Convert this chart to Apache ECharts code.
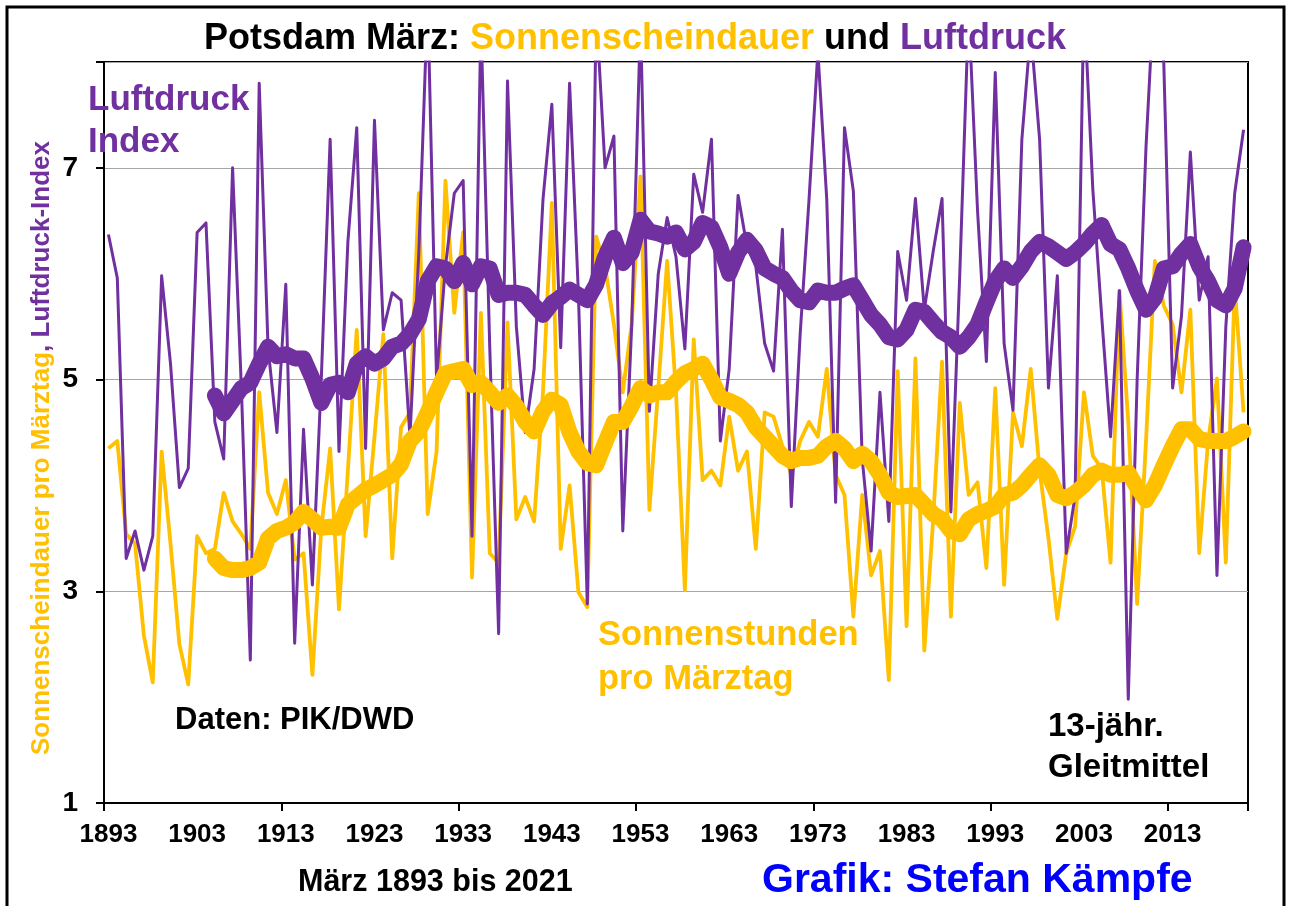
<!DOCTYPE html>
<html>
<head>
<meta charset="utf-8">
<script src="https://cdn.jsdelivr.net/npm/echarts@6/dist/echarts.min.js"></script>
<style>
html,body{margin:0;padding:0;background:#fff;}
#chart{width:1290px;height:906px;}
</style>
</head>
<body>
<div id="chart"></div>
<script>
var years = [1893,1894,1895,1896,1897,1898,1899,1900,1901,1902,
1903,1904,1905,1906,1907,1908,1909,1910,1911,1912,
1913,1914,1915,1916,1917,1918,1919,1920,1921,1922,
1923,1924,1925,1926,1927,1928,1929,1930,1931,1932,
1933,1934,1935,1936,1937,1938,1939,1940,1941,1942,
1943,1944,1945,1946,1947,1948,1949,1950,1951,1952,
1953,1954,1955,1956,1957,1958,1959,1960,1961,1962,
1963,1964,1965,1966,1967,1968,1969,1970,1971,1972,
1973,1974,1975,1976,1977,1978,1979,1980,1981,1982,
1983,1984,1985,1986,1987,1988,1989,1990,1991,1992,
1993,1994,1995,1996,1997,1998,1999,2000,2001,2002,
2003,2004,2005,2006,2007,2008,2009,2010,2011,2012,
2013,2014,2015,2016,2017,2018,2019,2020,2021];

var sonne = [4.35,4.42,3.54,3.45,2.58,2.14,4.32,3.45,2.50,2.12,
3.52,3.36,3.40,3.93,3.66,3.54,3.40,4.88,3.93,3.73,
4.05,3.30,3.36,2.21,3.59,4.35,2.83,4.14,5.47,3.52,
4.46,5.43,3.31,4.55,4.69,6.76,3.73,4.32,6.88,5.63,
6.39,3.13,5.63,3.36,3.27,5.54,3.68,3.89,3.66,4.88,
6.67,3.40,4.00,2.99,2.85,6.35,6.07,5.52,4.88,5.52,
6.92,3.77,4.92,6.12,4.88,3.01,5.38,4.05,4.14,4.00,
4.65,4.14,4.32,3.40,4.69,4.65,4.37,4.10,4.42,4.60,
4.46,5.10,4.10,3.91,2.76,3.91,3.15,3.38,2.16,5.08,
2.67,5.20,2.44,3.68,5.17,2.76,4.78,3.91,4.03,3.22,
4.92,3.06,4.69,4.37,5.10,4.14,3.50,2.74,3.36,3.61,
4.88,4.28,4.16,3.27,5.84,4.60,2.88,4.42,6.12,5.70,
5.52,4.88,5.66,3.36,4.42,5.01,3.27,5.89,4.69];

var luftdruck = [6.37,5.96,3.31,3.57,3.20,3.52,5.98,5.15,3.98,4.16,
6.39,6.48,4.60,4.25,7.00,4.90,2.35,7.80,5.30,4.50,
5.90,2.51,4.53,3.06,5.00,7.27,4.32,6.30,7.38,4.35,
7.45,5.47,5.82,5.75,4.46,6.20,8.60,5.00,6.07,6.76,
6.88,3.52,8.40,5.30,2.60,7.82,5.50,4.50,5.10,6.70,
7.60,5.30,7.80,5.80,2.88,8.50,7.00,7.30,3.57,5.50,
8.40,4.70,6.00,6.53,6.16,5.29,6.94,6.58,7.27,4.42,
5.10,6.74,6.26,6.07,5.34,5.08,6.42,3.80,5.43,6.70,
8.10,6.70,3.84,7.38,6.78,4.25,3.38,4.88,3.66,6.21,
5.75,6.71,5.66,6.21,6.71,3.75,6.00,8.50,6.60,5.17,
7.90,5.34,4.71,7.27,8.30,7.27,4.92,5.98,3.36,3.90,
8.60,6.80,5.60,4.46,5.84,1.98,5.00,7.20,8.80,8.00,
4.92,5.60,7.15,5.75,6.16,3.15,5.50,6.76,7.36];

var sonneMittel = [null,null,null,null,null,null,null,null,null,null,null,null,
3.31,3.22,3.20,3.20,3.22,3.27,3.50,3.57,
3.60,3.65,3.75,3.68,3.60,3.61,3.60,3.82,3.89,3.96,
4.00,4.05,4.10,4.20,4.42,4.51,4.69,4.88,5.06,5.08,
5.10,4.95,4.97,4.88,4.78,4.85,4.75,4.60,4.51,4.70,
4.81,4.76,4.50,4.32,4.21,4.19,4.40,4.60,4.60,4.75,
4.92,4.85,4.88,4.88,4.98,5.06,5.10,5.15,5.00,4.83,
4.80,4.76,4.69,4.55,4.46,4.37,4.28,4.23,4.26,4.26,
4.28,4.37,4.42,4.35,4.23,4.30,4.23,4.10,3.93,3.89,
3.90,3.91,3.82,3.73,3.68,3.57,3.54,3.68,3.73,3.76,
3.80,3.91,3.93,4.00,4.10,4.19,4.10,3.91,3.88,3.93,
4.00,4.10,4.14,4.10,4.10,4.12,3.98,3.86,4.00,4.19,
4.37,4.53,4.53,4.44,4.42,4.42,4.42,4.46,4.51];

var luftdruckMittel = [null,null,null,null,null,null,null,null,null,null,null,null,
4.85,4.68,4.80,4.92,4.97,5.15,5.31,5.22,
5.24,5.20,5.20,5.01,4.78,4.95,4.97,4.88,5.15,5.22,
5.15,5.20,5.31,5.34,5.43,5.57,5.93,6.07,6.05,5.93,
6.10,5.90,6.07,6.05,5.80,5.82,5.82,5.80,5.70,5.61,
5.72,5.78,5.85,5.80,5.75,5.90,6.16,6.34,6.10,6.20,
6.51,6.40,6.38,6.35,6.39,6.23,6.30,6.48,6.44,6.25,
6.00,6.20,6.32,6.22,6.05,6.00,5.96,5.84,5.75,5.73,
5.84,5.82,5.82,5.86,5.89,5.75,5.61,5.52,5.40,5.38,
5.47,5.66,5.64,5.54,5.45,5.40,5.31,5.40,5.52,5.73,
5.93,6.05,5.96,6.07,6.21,6.30,6.26,6.20,6.14,6.20,
6.28,6.38,6.46,6.28,6.23,6.05,5.84,5.66,5.77,6.05,
6.07,6.19,6.28,6.07,5.93,5.75,5.70,5.86,6.25];

var yTicks = [1, 3, 5, 7];

var FONT = '"Liberation Sans", Arial, Helvetica, sans-serif';
var GELB = '#FFC000';
var LILA = '#7030A0';

var chart = echarts.init(document.getElementById('chart'), null, {renderer: 'canvas'});

function txt(x, y, text, size, color) {
  return {
    type: 'text', x: x, y: y, z: 100,
    style: {
      text: text,
      font: 'bold ' + size + 'px ' + FONT,
      fill: color,
      verticalAlign: 'middle',
      align: 'left'
    }
  };
}

var option = {
  backgroundColor: '#fff',
  animation: false,
  title: {
    text: '{a|Potsdam März: }{b|Sonnenscheindauer}{a| und }{c|Luftdruck}',
    left: 199, top: 14,
    textStyle: {
      rich: {
        a: {color: '#000', fontSize: 36, fontWeight: 'bold', fontFamily: FONT, lineHeight: 40},
        b: {color: GELB, fontSize: 36, fontWeight: 'bold', fontFamily: FONT, lineHeight: 40},
        c: {color: LILA, fontSize: 36, fontWeight: 'bold', fontFamily: FONT, lineHeight: 40}
      }
    }
  },
  grid: {
    left: 104, right: 42, top: 62, bottom: 103,
    show: true, borderColor: '#000', borderWidth: 2, backgroundColor: 'transparent'
  },
  xAxis: {
    type: 'category',
    data: years,
    boundaryGap: true,
    axisLine: {lineStyle: {color: '#000', width: 2}},
    axisTick: {show: true, interval: 19, length: 8, lineStyle: {color: '#000', width: 2}},
    axisLabel: {interval: 9, color: '#000', fontSize: 26, fontWeight: 'bold', fontFamily: FONT, margin: 19},
    splitLine: {show: false}
  },
  yAxis: {
    type: 'value',
    min: yTicks[0], max: 8, interval: 2,
    axisLine: {show: true, lineStyle: {color: '#000', width: 2}},
    axisTick: {show: true, length: 8, lineStyle: {color: '#000', width: 2}},
    axisLabel: {
      color: '#000', fontSize: 28, fontWeight: 'bold', fontFamily: FONT, margin: 26,
      formatter: function (v) { return yTicks.indexOf(v) >= 0 ? String(v) : ''; }
    },
    splitLine: {show: true, lineStyle: {color: '#A6A6A6', width: 1}}
  },
  series: [
    {
      name: 'Sonnenscheindauer', type: 'line', data: sonne, showSymbol: false, z: 2,
      lineStyle: {color: GELB, width: 3.8, join: 'round'}, itemStyle: {color: GELB}
    },
    {
      name: 'Luftdruck', type: 'line', data: luftdruck, showSymbol: false, z: 3,
      lineStyle: {color: LILA, width: 3, join: 'round'}, itemStyle: {color: LILA}
    },
    {
      name: 'Sonne 13j', type: 'line', data: sonneMittel, showSymbol: false, z: 4,
      lineStyle: {color: GELB, width: 16, join: 'round', cap: 'round'}, itemStyle: {color: GELB}
    },
    {
      name: 'Luftdruck 13j', type: 'line', data: luftdruckMittel, showSymbol: false, z: 5,
      lineStyle: {color: LILA, width: 16, join: 'round', cap: 'round'}, itemStyle: {color: LILA}
    }
  ],
  graphic: [
    {type: 'rect', z: 100, shape: {x: 7, y: 7, width: 1277, height: 920}, style: {fill: 'none', stroke: '#000', lineWidth: 3}},
    {
      type: 'text', x: 42, y: 448, rotation: Math.PI / 2, z: 100,
      style: {
        text: '{s|Sonnenscheindauer pro Märztag}{l|, Luftdruck-Index}',
        align: 'center', verticalAlign: 'middle',
        rich: {
          s: {fill: GELB, fontSize: 26, fontWeight: 'bold', fontFamily: FONT},
          l: {fill: LILA, fontSize: 26, fontWeight: 'bold', fontFamily: FONT}
        }
      }
    },
    txt(88, 100, 'Luftdruck', 35, LILA),
    txt(88, 142, 'Index', 35, LILA),
    txt(175, 720, 'Daten: PIK/DWD', 31, '#000'),
    txt(598, 635, 'Sonnenstunden', 34.5, GELB),
    txt(598, 679, 'pro Märztag', 34.5, GELB),
    txt(1048, 727, '13-jähr.', 33, '#000'),
    txt(1048, 768, 'Gleitmittel', 33, '#000'),
    txt(298, 883, 'März 1893 bis 2021', 30.5, '#000'),
    txt(762, 881, 'Grafik: Stefan Kämpfe', 41, '#0000FF')
  ]
};
chart.setOption(option);
</script>
</body>
</html>
